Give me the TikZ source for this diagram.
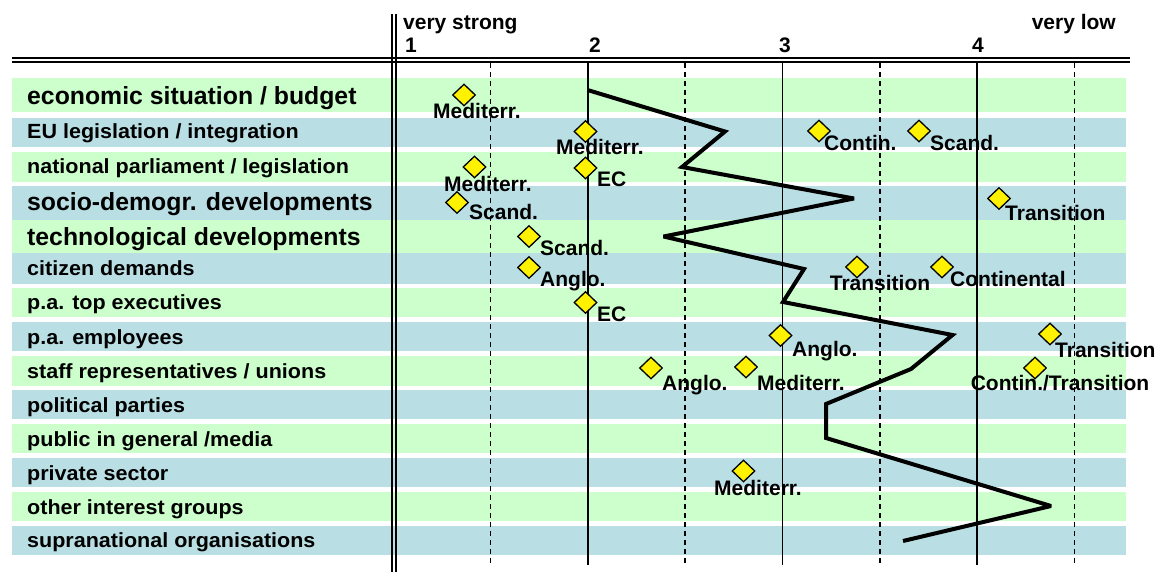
\documentclass[tikz,border=0pt]{standalone}
\usepackage{fontspec}
\setmainfont{Liberation Sans}
\usetikzlibrary{shapes.geometric}
\definecolor{rowgreen}{RGB}{204,255,204}
\definecolor{rowblue}{RGB}{185,223,228}
\newcommand\rowwide[1]{\scalebox{1.05}[1]{#1}}
\begin{document}
\begin{tikzpicture}[x=1pt,y=-1pt,
  rowtext/.style={anchor=base west, inner sep=0pt, font=\bfseries\fontsize{20.5}{22}\selectfont},
  rowbig/.style={anchor=base west, inner sep=0pt, font=\bfseries\fontsize{24.8}{27}\selectfont},
  lbl/.style={inner sep=0pt, font=\bfseries\fontsize{21}{23}\selectfont},
  lblw/.style={lbl, anchor=base west},
  lblc/.style={lbl, anchor=base},
  marker/.style={diamond, draw=black, fill=yellow, line width=1.3pt,
    minimum width=23pt, minimum height=22pt, inner sep=0pt},
  gridsolid/.style={line width=1.6pt},
  griddash/.style={line width=1.6pt, dash pattern=on 5pt off 4pt},
  profile/.style={line width=4pt, line join=miter, miter limit=3}
]
\useasboundingbox (0,0) rectangle (1170,572);

% alternating row bands
\foreach \t/\b/\c in {78/112/rowgreen, 118/147/rowblue, 152/182/rowgreen,
    186/220/rowblue, 220/253/rowgreen, 253/284/rowblue, 288/317/rowgreen,
    322/351/rowblue, 356/386/rowgreen, 390/419/rowblue, 424/453/rowgreen,
    458/487/rowblue, 492/521/rowgreen, 526/555/rowblue}
  \fill[\c] (12,\t) rectangle (1126,\b);

% scale grid
\foreach \x in {588,782.5,977}
  \draw[gridsolid] (\x,62) -- (\x,565);
\foreach \x in {490.5,685,880,1074.5}
  \draw[griddash] (\x,63) -- (\x,563);

% double rules of the table head
\draw[line width=2pt] (12,58.5) -- (1130,58.5);
\draw[line width=2pt] (12,62.5) -- (1130,62.5);
\draw[line width=1.8pt] (392,14) -- (392,572);
\draw[line width=1.8pt] (396,14) -- (396,572);

% scale head
\node[lblw] (hstrong) at (403,30) {very strong};
\node[lbl, anchor=base east] (hlow) at (1116,30) {very low};
\node[lblw] (h1) at (405,53) {1};
\node[lblw] (h2) at (589,53) {2};
\node[lblc] (h3) at (785,53) {3};
\node[lblc] (h4) at (978,53) {4};

% row captions
\node[rowbig]  (r1)  at (27,105) {economic situation / budget};
\node[rowtext] (r2)  at (27,139) {\rowwide{EU legislation / integration}};
\node[rowtext] (r3)  at (27,174) {\rowwide{national parliament / legislation}};
\node[rowbig]  (r4)  at (27,211) {socio-demogr. developments};
\node[rowbig]  (r5)  at (27,245) {technological developments};
\node[rowtext] (r6)  at (27,276) {\rowwide{citizen demands}};
\node[rowtext] (r7)  at (27,309) {\rowwide{p.a. top executives}};
\node[rowtext] (r8)  at (27,344) {\rowwide{p.a. employees}};
\node[rowtext] (r9)  at (27,378) {\rowwide{staff representatives / unions}};
\node[rowtext] (r10) at (27,412) {\rowwide{political parties}};
\node[rowtext] (r11) at (27,446) {\rowwide{public in general /media}};
\node[rowtext] (r12) at (27,480) {\rowwide{private sector}};
\node[rowtext] (r13) at (27,514) {\rowwide{other interest groups}};
\node[rowtext] (r14) at (27,547) {\rowwide{supranational organisations}};

% overall profile
\coordinate (p1) at (587.5,90);
\coordinate (p2) at (725,131.5);
\coordinate (p3) at (682,167);
\coordinate (p4) at (854,198.5);
\coordinate (p5) at (663.5,236.5);
\coordinate (p6) at (804,269);
\coordinate (p7) at (783,302);
\coordinate (p8) at (952.5,335);
\coordinate (p9) at (911,369);
\coordinate (p10) at (826,404);
\coordinate (p11) at (826,438);
\coordinate (p12) at (1051,506);
\coordinate (p13) at (903,541);
\draw[profile] (p1) -- (p2) -- (p3) -- (p4) -- (p5) -- (p6) -- (p7)
  -- (p8) -- (p9) -- (p10) -- (p11) -- (p12) -- (p13);

% country-group markers
\node[marker] (d1)  at (464,95) {};
\node[marker] (d2)  at (585.5,131.5) {};
\node[marker] (d3)  at (819,131) {};
\node[marker] (d4)  at (919,131) {};
\node[marker] (d5)  at (474.5,167) {};
\node[marker] (d6)  at (585.5,168) {};
\node[marker] (d7)  at (457,202.5) {};
\node[marker] (d8)  at (999,198.5) {};
\node[marker] (d9)  at (529,236.5) {};
\node[marker] (d10) at (529,267.5) {};
\node[marker] (d11) at (857,267) {};
\node[marker] (d12) at (942,267) {};
\node[marker] (d13) at (585.5,302.5) {};
\node[marker] (d14) at (780.5,335.5) {};
\node[marker] (d15) at (1050,334) {};
\node[marker] (d16) at (651,368) {};
\node[marker] (d17) at (746,367) {};
\node[marker] (d18) at (1035,368) {};
\node[marker] (d19) at (743.5,471) {};

% marker captions
\node[lblc] (t1)  at (477,119) {Mediterr.};
\node[lblc] (t2)  at (600,155) {Mediterr.};
\node[lblw] (t3)  at (824,151) {Contin.};
\node[lblw] (t4)  at (930,151) {Scand.};
\node[lblc] (t5)  at (488,192) {Mediterr.};
\node[lblw] (t6)  at (597,187) {EC};
\node[lblw] (t7)  at (469,220) {Scand.};
\node[lblw] (t8)  at (1005,221) {Transition};
\node[lblw] (t9)  at (540,255) {Scand.};
\node[lblw] (t10) at (540,286) {Anglo.};
\node[lblc] (t11) at (880,290) {Transition};
\node[lblw] (t12) at (950,286) {Continental};
\node[lblw] (t13) at (597,321) {EC};
\node[lblw] (t14) at (792,356) {Anglo.};
\node[lblw] (t15) at (1055,357) {Transition};
\node[lblw] (t16) at (662,390) {Anglo.};
\node[lblw] (t17) at (757,390) {Mediterr.};
\node[lblc] (t18) at (1060,390) {Contin./Transition};
\node[lblc] (t19) at (758,495) {Mediterr.};
\end{tikzpicture}
\end{document}
